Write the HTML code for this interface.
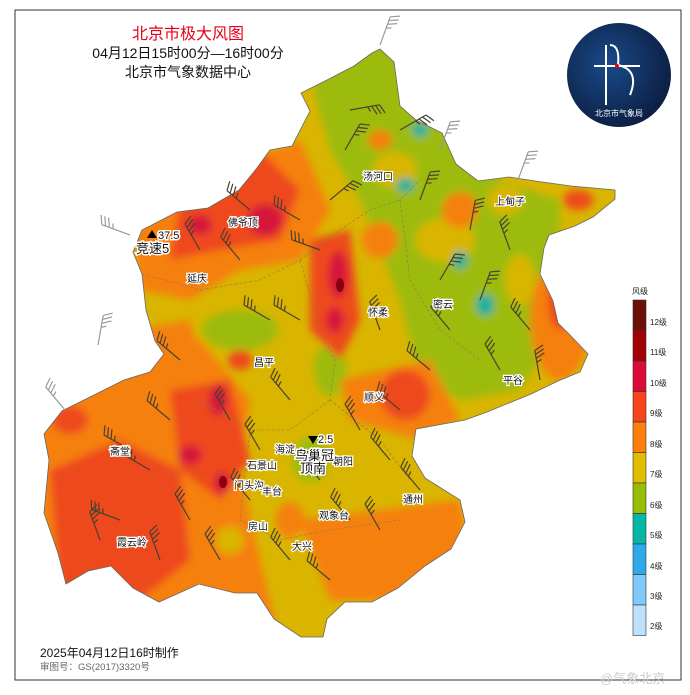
<!DOCTYPE html>
<html><head><meta charset="utf-8"><style>
body{margin:0;background:#fff;width:690px;height:690px;overflow:hidden;font-family:"Liberation Sans","Noto Sans CJK SC",sans-serif}
</style></head><body>
<svg width="690" height="690" viewBox="0 0 690 690" xmlns="http://www.w3.org/2000/svg" font-family="Liberation Sans, Noto Sans CJK SC, sans-serif">
<rect x="15" y="10" width="666" height="670" fill="#fff" stroke="#333" stroke-width="1"/>
<defs>
<clipPath id="bj"><path id="outline" d="M380,49 L394,62 L400,106 L416,120 L442,133 L456,164 L478,181 L509,177 L535,181 L571,186 L615,190 L615,199 L593,217 L575,226 L549,235 L544,248 L540,274 L553,301 L558,323 L571,336 L588,354 L580,372 L558,381 L531,394 L487,412 L465,420 L416,429 L412,456 L425,478 L460,500 L465,522 L451,549 L425,566 L398,588 L372,602 L345,602 L327,619 L323,637 L301,637 L274,619 L257,593 L235,593 L199,584 L159,602 L133,588 L111,566 L88,571 L66,584 L58,553 L44,513 L49,460 L44,434 L62,411 L88,398 L124,380 L150,372 L164,354 L155,341 L146,310 L142,274 L133,252 L142,230 L177,212 L208,208 L239,190 L257,168 L270,150 L292,146 L310,111 L301,93 L327,80 L354,66 L372,53 Z"/></clipPath>
<filter id="bl"><feGaussianBlur stdDeviation="4"/></filter>
</defs>
<g clip-path="url(#bj)">
<rect x="0" y="0" width="690" height="690" fill="#d9b500"/>
<g filter="url(#bl)">
<path d="M300,40 L470,40 L500,180 L560,200 L560,330 L520,390 L460,400 L420,380 L400,300 L380,250 L360,200 L330,150 Z" fill="#9dbb10"/>
<ellipse cx="240" cy="330" rx="38" ry="20" fill="#9dbb10"/>
<ellipse cx="330" cy="370" rx="16" ry="26" fill="#9dbb10"/>
<ellipse cx="310" cy="460" rx="18" ry="22" fill="#9dbb10"/>
<ellipse cx="395" cy="170" rx="22" ry="18" fill="#d9b500"/>
<ellipse cx="445" cy="240" rx="30" ry="22" fill="#d9b500"/>
<ellipse cx="505" cy="200" rx="18" ry="15" fill="#d9b500"/>
<ellipse cx="520" cy="280" rx="15" ry="25" fill="#d9b500"/>
<path d="M130,200 L300,140 L330,210 L300,260 L240,270 L190,300 L140,290 Z" fill="#f58010"/>
<path d="M40,380 L200,340 L250,400 L240,470 L260,560 L280,640 L40,640 Z" fill="#f58010"/>
<path d="M300,520 L460,500 L470,560 L400,600 L330,600 Z" fill="#f58010"/>
<path d="M340,380 L430,360 L460,420 L420,440 L350,420 Z" fill="#f58010"/>
<path d="M130,330 L190,320 L200,360 L150,370 Z" fill="#f58010"/>
<ellipse cx="560" cy="320" rx="30" ry="60" fill="#f58010"/>
<ellipse cx="460" cy="210" rx="18" ry="18" fill="#f58010"/>
<ellipse cx="380" cy="240" rx="18" ry="18" fill="#f58010"/>
<ellipse cx="380" cy="140" rx="12" ry="10" fill="#f58010"/>
<ellipse cx="290" cy="520" rx="14" ry="18" fill="#f58010"/>
<ellipse cx="230" cy="540" rx="14" ry="14" fill="#d9b500"/>
<path d="M180,200 L260,150 L300,190 L280,240 L220,250 L170,260 Z" fill="#ee4a1b"/>
<path d="M50,470 L120,440 L180,470 L190,560 L140,600 L60,590 Z" fill="#ee4a1b"/>
<path d="M170,390 L230,380 L250,460 L220,500 L180,470 Z" fill="#ee4a1b"/>
<path d="M310,240 L350,230 L360,320 L340,360 L310,330 Z" fill="#ee4a1b"/>
<ellipse cx="405" cy="395" rx="25" ry="25" fill="#ee4a1b"/>
<ellipse cx="560" cy="300" rx="12" ry="30" fill="#ee4a1b"/>
<ellipse cx="578" cy="200" rx="15" ry="10" fill="#ee4a1b"/>
<ellipse cx="70" cy="420" rx="18" ry="14" fill="#ee4a1b"/>
<ellipse cx="240" cy="360" rx="12" ry="10" fill="#ee4a1b"/>
<ellipse cx="265" cy="220" rx="18" ry="16" fill="#d6123a"/>
<ellipse cx="200" cy="225" rx="12" ry="10" fill="#d6123a"/>
<ellipse cx="338" cy="275" rx="10" ry="24" fill="#d6123a"/>
<ellipse cx="335" cy="320" rx="9" ry="13" fill="#d6123a"/>
<ellipse cx="218" cy="400" rx="9" ry="16" fill="#d6123a"/>
<ellipse cx="190" cy="455" rx="12" ry="10" fill="#d6123a"/>
<ellipse cx="222" cy="483" rx="8" ry="11" fill="#d6123a"/>
<ellipse cx="420" cy="130" rx="8" ry="7" fill="#18b0a0"/>
<ellipse cx="405" cy="185" rx="9" ry="7" fill="#18b0a0"/>
<ellipse cx="460" cy="260" rx="7" ry="9" fill="#18b0a0"/>
<ellipse cx="485" cy="305" rx="9" ry="11" fill="#18b0a0"/>
</g>
<ellipse cx="340" cy="285" rx="4" ry="7" fill="#8a0010"/>
<ellipse cx="223" cy="482" rx="4" ry="6" fill="#8a0010"/>
</g>
<use href="#outline" fill="none" stroke="#666" stroke-width="0.8"/>
<g fill="none" stroke="#8a7a50" stroke-width="0.6" stroke-dasharray="3,2">
<path d="M142,274 L200,290 L260,280 L300,260"/><path d="M300,260 L340,230 L370,210 L400,200 L420,180"/>
<path d="M300,260 L320,330 L335,360 L330,400"/><path d="M400,200 L410,280 L440,330 L480,360"/>
<path d="M200,400 L250,430 L290,430 L330,400"/><path d="M250,430 L240,520 L280,540 L330,530 L400,520"/>
<path d="M330,400 L380,440 L410,480"/>
</g>
<g stroke="#4a4030" stroke-width="1.2" fill="none">
<g id="b1"><path d="M0,0 L0,-30 M0,-30 L9,-34 M0,-26 L9,-30 M0,-22 L9,-26 M0,-18 L5,-20"/></g>
<use href="#b1" transform="translate(345,150) rotate(30)"/>
<use href="#b1" transform="translate(330,200) rotate(50)"/>
<use href="#b1" transform="translate(420,200) rotate(20)"/>
<use href="#b1" transform="translate(470,230) rotate(10)"/>
<use href="#b1" transform="translate(510,250) rotate(-20)"/>
<use href="#b1" transform="translate(200,250) rotate(-30)"/>
<use href="#b1" transform="translate(240,260) rotate(-40)"/>
<use href="#b1" transform="translate(270,320) rotate(-60)"/>
<use href="#b1" transform="translate(380,330) rotate(-20)"/>
<use href="#b1" transform="translate(430,370) rotate(-50)"/>
<use href="#b1" transform="translate(500,370) rotate(-30)"/>
<use href="#b1" transform="translate(540,380) rotate(-10)"/>
<use href="#b1" transform="translate(150,470) rotate(-60)"/>
<use href="#b1" transform="translate(100,540) rotate(-20)"/>
<use href="#b1" transform="translate(190,520) rotate(-30)"/>
<use href="#b1" transform="translate(290,560) rotate(-40)"/>
<use href="#b1" transform="translate(330,580) rotate(-50)"/>
<use href="#b1" transform="translate(380,530) rotate(-30)"/>
<use href="#b1" transform="translate(420,490) rotate(-40)"/>
<use href="#b1" transform="translate(260,450) rotate(-30)"/>
<use href="#b1" transform="translate(290,400) rotate(-40)"/>
<use href="#b1" transform="translate(360,430) rotate(-30)"/>
<use href="#b1" transform="translate(120,520) rotate(-70)"/>
<use href="#b1" transform="translate(170,420) rotate(-50)"/>
<use href="#b1" transform="translate(350,110) rotate(80)"/>
<use href="#b1" transform="translate(400,130) rotate(60)"/>
<use href="#b1" transform="translate(320,250) rotate(-70)"/>
<use href="#b1" transform="translate(300,320) rotate(-60)"/>
<use href="#b1" transform="translate(450,330) rotate(-40)"/>
<use href="#b1" transform="translate(480,300) rotate(20)"/>
<use href="#b1" transform="translate(530,330) rotate(-40)"/>
<use href="#b1" transform="translate(440,280) rotate(30)"/>
<use href="#b1" transform="translate(230,420) rotate(-30)"/>
<use href="#b1" transform="translate(130,450) rotate(-60)"/>
<use href="#b1" transform="translate(160,560) rotate(-20)"/>
<use href="#b1" transform="translate(220,560) rotate(-30)"/>
<use href="#b1" transform="translate(250,500) rotate(-40)"/>
<use href="#b1" transform="translate(320,480) rotate(-40)"/>
<use href="#b1" transform="translate(390,460) rotate(-40)"/>
<use href="#b1" transform="translate(400,410) rotate(-50)"/>
<use href="#b1" transform="translate(180,360) rotate(-50)"/>
<use href="#b1" transform="translate(300,220) rotate(-60)"/>
<use href="#b1" transform="translate(250,210) rotate(-50)"/>
<use href="#b1" transform="translate(350,520) rotate(-40)"/>
</g>
<g stroke="#999" stroke-width="1.2" fill="none">
<use href="#b1" transform="translate(380,45) rotate(20)"/>
<use href="#b1" transform="translate(98,345) rotate(10)"/>
<use href="#b1" transform="translate(440,150) rotate(20)"/>
<use href="#b1" transform="translate(518,180) rotate(20)"/>
<use href="#b1" transform="translate(130,235) rotate(-70)"/>
<use href="#b1" transform="translate(65,410) rotate(-40)"/>
</g>
<g font-size="10" fill="#111" text-anchor="middle" stroke="#fff" stroke-width="2.5" paint-order="stroke">
<text x="378" y="180">汤河口</text><text x="510" y="205">上甸子</text><text x="243" y="226">佛爷顶</text>
<text x="197" y="282">延庆</text><text x="378" y="316">怀柔</text><text x="443" y="308">密云</text>
<text x="264" y="366">昌平</text><text x="374" y="401">顺义</text><text x="513" y="384">平谷</text>
<text x="120" y="455">斋堂</text><text x="285" y="453">海淀</text><text x="343" y="465">朝阳</text>
<text x="262" y="469">石景山</text><text x="249" y="489">门头沟</text><text x="272" y="495">丰台</text>
<text x="413" y="503">通州</text><text x="334" y="519">观象台</text><text x="258" y="530">房山</text>
<text x="132" y="546">霞云岭</text><text x="302" y="550">大兴</text>
</g>
<g font-size="13" fill="#111" stroke="#fff" stroke-width="3" paint-order="stroke">
<text x="136" y="253">竞速5</text><text x="295" y="460">鸟巢冠</text><text x="300" y="473">顶南</text>
<text x="158" y="239" font-size="11">37.5</text><text x="318" y="443" font-size="11">2.5</text>
</g>
<polygon points="152,230 157,238 147,238" fill="#000"/>
<polygon points="308,436 318,436 313,444" fill="#000"/>
<text x="188" y="39" font-size="16" fill="#e8001a" text-anchor="middle">北京市极大风图</text>
<text x="188" y="58" font-size="14" fill="#111" text-anchor="middle">04月12日15时00分—16时00分</text>
<text x="188" y="77" font-size="14" fill="#111" text-anchor="middle">北京市气象数据中心</text>
<text x="40" y="657" font-size="12" fill="#111">2025年04月12日16时制作</text>
<text x="40" y="670" font-size="9.5" fill="#666">审图号：GS(2017)3320号</text>
<text x="600" y="683" font-size="13" fill="#ccc">@气象北京</text>
<defs><radialGradient id="lg" cx="0.4" cy="0.4" r="0.7"><stop offset="0" stop-color="#1a4a8a"/><stop offset="1" stop-color="#0a1a3a"/></radialGradient></defs>
<circle cx="619" cy="75" r="52" fill="url(#lg)"/>
<path d="M606,45 L606,105 M594,66 L640,66 M610,45 Q620,45 618,65 Q640,70 630,95" stroke="#fff" stroke-width="2" fill="none"/>
<circle cx="617" cy="66" r="2" fill="#e00"/>
<text x="619" y="116" font-size="8" fill="#fff" text-anchor="middle">北京市气象局</text>
<text x="640" y="294" font-size="8" fill="#222" text-anchor="middle">风级</text>
<g stroke="#333" stroke-width="0.6">
<rect x="633" y="300" width="13" height="30.5" fill="#6b1108"/>
<rect x="633" y="330.5" width="13" height="30.5" fill="#a30005"/>
<rect x="633" y="361" width="13" height="30.5" fill="#dc0a38"/>
<rect x="633" y="391.5" width="13" height="30.5" fill="#f7441b"/>
<rect x="633" y="422" width="13" height="30.5" fill="#fd800d"/>
<rect x="633" y="452.5" width="13" height="30.5" fill="#e1bd00"/>
<rect x="633" y="483" width="13" height="30.5" fill="#98bd05"/>
<rect x="633" y="513.5" width="13" height="30.5" fill="#06b7a6"/>
<rect x="633" y="544" width="13" height="30.5" fill="#2ea9ea"/>
<rect x="633" y="574.5" width="13" height="30.5" fill="#80c9fc"/>
<rect x="633" y="605" width="13" height="30.5" fill="#bde1fd"/>
</g>
<g font-size="8" fill="#222">
<text x="650" y="325">12级</text><text x="650" y="355">11级</text><text x="650" y="386">10级</text>
<text x="650" y="416">9级</text><text x="650" y="447">8级</text><text x="650" y="477">7级</text>
<text x="650" y="508">6级</text><text x="650" y="538">5级</text><text x="650" y="569">4级</text>
<text x="650" y="599">3级</text><text x="650" y="629">2级</text>
</g>
</svg>
</body></html>
